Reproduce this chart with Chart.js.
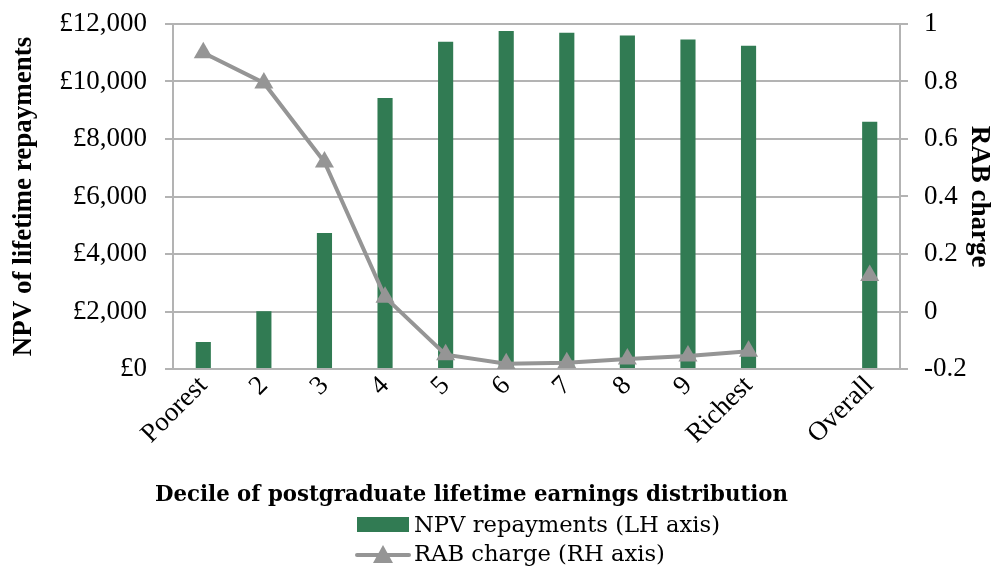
<!DOCTYPE html>
<html>
<head>
<meta charset="utf-8">
<script src="https://cdn.jsdelivr.net/npm/chart.js@4.4.1/dist/chart.umd.min.js"></script>
<style>
  html, body { margin: 0; padding: 0; background: #fff; }
  #wrap { width: 995px; height: 568px; position: relative; }
</style>
</head>
<body>
<div id="wrap"><canvas id="chart"></canvas></div>
<script>
const categories = ["Poorest", "2", "3", "4", "5", "6", "7", "8", "9", "Richest", "", "Overall"];
const npvRepayments = [940, 2010, 4730, 9430, 11380, 11760, 11700, 11600, 11460, 11240, null, 8600];
const rabCharge = [0.90, 0.795, 0.52, 0.05, -0.15, -0.182, -0.178, -0.165, -0.155, -0.138, null, 0.125];
const leftTicks = [0, 2000, 4000, 6000, 8000, 10000, 12000];
const rightTicks = [-0.2, 0, 0.2, 0.4, 0.6, 0.8, 1];

const seriesNames = ["NPV repayments (LH axis)", "RAB charge (RH axis)"];
const xTitle = "Decile of postgraduate lifetime earnings distribution";

const GREEN = "#317b53";
const GREY_LINE = "#959595";
const GRID = "#b3b3b3";
const serif = "'Liberation Serif', 'DejaVu Serif', serif";
const wideSerif = "'DejaVu Serif', serif";

// draws text squeezed to a given width (the original font is a narrow Cambria)
function squeezed(ctx, text, x, y, scaleX) {
  ctx.save();
  ctx.translate(x, y);
  ctx.scale(scaleX, 1);
  ctx.fillText(text, 0, 0);
  ctx.restore();
}

// x title + legend drawn under the axis, legend items left aligned as a block
const bottomText = {
  id: "bottomText",
  afterDraw(chart) {
    const ctx = chart.ctx;
    ctx.save();
    ctx.fillStyle = "#000";
    ctx.textBaseline = "alphabetic";
    ctx.textAlign = "left";

    ctx.font = "bold 22px " + wideSerif;
    let w = ctx.measureText(xTitle).width;
    squeezed(ctx, xTitle, 155, 501, 633 / w);

    ctx.font = "23px " + wideSerif;
    const k = 306 / ctx.measureText(seriesNames[0]).width;
    // bars
    ctx.fillStyle = GREEN;
    ctx.fillRect(357, 517, 52, 15);
    ctx.fillStyle = "#000";
    squeezed(ctx, seriesNames[0], 414, 532, k);
    // line
    ctx.strokeStyle = GREY_LINE;
    ctx.lineWidth = 4;
    ctx.lineCap = "round";
    ctx.beginPath();
    ctx.moveTo(357, 555);
    ctx.lineTo(409, 555);
    ctx.stroke();
    ctx.fillStyle = GREY_LINE;
    ctx.beginPath();
    ctx.moveTo(383, 545);
    ctx.lineTo(393, 563);
    ctx.lineTo(373, 563);
    ctx.closePath();
    ctx.fill();
    ctx.fillStyle = "#000";
    squeezed(ctx, seriesNames[1], 414, 561, k);
    ctx.restore();
  }
};

function fixVertical(width) {
  return scale => {
    scale.width = width;
    scale.paddingTop = 0;
    scale.paddingBottom = 0;
  };
}

new Chart(document.getElementById("chart"), {
  data: {
    labels: categories,
    datasets: [
      {
        type: "line",
        label: seriesNames[1],
        data: rabCharge,
        yAxisID: "y1",
        borderColor: GREY_LINE,
        backgroundColor: GREY_LINE,
        borderWidth: 4,
        pointStyle: "triangle",
        pointRadius: 11,
        pointBorderWidth: 0,
        spanGaps: false,
        tension: 0,
        order: 0
      },
      {
        type: "bar",
        label: seriesNames[0],
        data: npvRepayments,
        yAxisID: "y",
        backgroundColor: GREEN,
        categoryPercentage: 1,
        barPercentage: 0.25,
        order: 1
      }
    ]
  },
  options: {
    responsive: true,
    maintainAspectRatio: false,
    animation: false,
    layout: { padding: { top: 24, left: 0, right: 0, bottom: 0 } },
    plugins: {
      legend: { display: false },
      tooltip: { enabled: false }
    },
    scales: {
      x: {
        grid: { display: false },
        border: { display: true, color: GRID, width: 2 },
        ticks: {
          color: "#000",
          font: { family: serif, size: 27 },
          maxRotation: 45,
          minRotation: 45,
          autoSkip: false,
          padding: -7
        },
        afterFit(scale) { scale.height = 199; }
      },
      y: {
        position: "left",
        min: 0,
        max: 12000,
        afterBuildTicks(scale) { scale.ticks = leftTicks.map(v => ({ value: v })); },
        grid: { color: GRID, lineWidth: 2, tickLength: 8 },
        border: { display: true, color: GRID, width: 2 },
        ticks: {
          color: "#000",
          font: { family: serif, size: 27 },
          padding: 18,
          callback: v => "£" + v.toLocaleString("en-GB")
        },
        title: {
          display: true,
          text: "NPV of lifetime repayments",
          color: "#000",
          font: { family: serif, size: 27, weight: "bold" },
          padding: { top: 8, bottom: 0 }
        },
        afterFit: fixVertical(173)
      },
      y1: {
        position: "right",
        min: -0.2,
        max: 1,
        afterBuildTicks(scale) { scale.ticks = rightTicks.map(v => ({ value: v })); },
        grid: { drawOnChartArea: false, color: GRID, lineWidth: 2, tickLength: 8 },
        border: { display: true, color: GRID, width: 2 },
        ticks: {
          color: "#000",
          font: { family: serif, size: 27 },
          padding: 16,
          callback: v => String(+v.toFixed(1))
        },
        title: {
          display: true,
          text: "RAB charge",
          color: "#000",
          font: { family: serif, size: 27, weight: "bold" },
          padding: { top: 0, bottom: 0 }
        },
        afterFit: fixVertical(95)
      }
    }
  },
  plugins: [bottomText]
});
</script>
</body>
</html>
